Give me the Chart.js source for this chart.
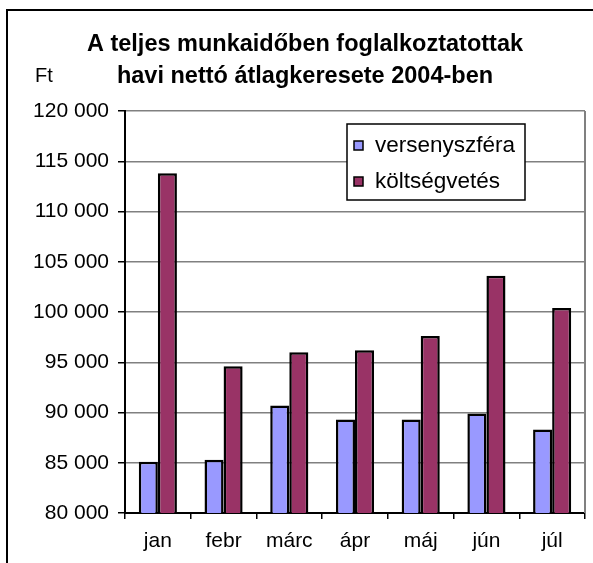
<!DOCTYPE html>
<html>
<head>
<meta charset="utf-8">
<script src="https://cdn.jsdelivr.net/npm/chart.js@4.4.1/dist/chart.umd.min.js"></script>
<style>
  html, body { margin: 0; padding: 0; background: #fff; }
  #wrap { width: 593px; height: 563px; }
</style>
</head>
<body>
<div id="wrap"><canvas id="chart" width="593" height="563"></canvas></div>
<script>
var months = ['jan', 'febr', 'márc', 'ápr', 'máj', 'jún', 'júl'];
var versenyszfera = [85100, 85300, 90700, 89300, 89300, 89900, 88300];
var koltsegvetes = [113800, 94600, 96000, 96200, 97600, 103600, 100400];
var titleLines = ['A teljes munkaidőben foglalkoztatottak', 'havi nettó átlagkeresete 2004-ben'];
var unitLabel = 'Ft';
var yMin = 80000, yMax = 120000, yStep = 5000;

var FONT = '"Liberation Sans", Arial, sans-serif';

function spaced(v) {
    return String(v).replace(/\B(?=(\d{3})+(?!\d))/g, ' ');
}

// frame, title, "Ft", plot border and legend box drawn on the canvas
var decor = {
    id: 'decor',
    beforeDraw(chart) {
        let ctx = chart.ctx;
        ctx.save();
        ctx.fillStyle = '#fff';
        ctx.fillRect(0, 0, chart.width, chart.height);
        ctx.strokeStyle = '#000';
        ctx.lineWidth = 2;
        ctx.strokeRect(7, 10, 700, 700);
        ctx.restore();
    },
    afterDraw(chart) {
        let ctx = chart.ctx, a = chart.chartArea;
        ctx.save();
        // right border of plot area
        ctx.strokeStyle = '#808080';
        ctx.lineWidth = 2;
        ctx.beginPath();
        ctx.moveTo(a.right, a.top);
        ctx.lineTo(a.right, a.bottom);
        ctx.stroke();

        ctx.fillStyle = '#000';
        ctx.textAlign = 'center';
        ctx.textBaseline = 'alphabetic';
        ctx.font = 'bold 23.5px ' + FONT;
        titleLines.forEach((t, i) => ctx.fillText(t, 305, 51 + i * 32));

        ctx.font = '20px ' + FONT;
        ctx.textAlign = 'left';
        ctx.fillText(unitLabel, 35, 82);

        // legend
        let lx = 347, ly = 124, lw = 178, lh = 76;
        ctx.fillStyle = '#fff';
        ctx.fillRect(lx, ly, lw, lh);
        ctx.strokeStyle = '#000';
        ctx.lineWidth = 1.5;
        ctx.strokeRect(lx, ly, lw, lh);
        chart.data.datasets.forEach((ds, i) => {
            let y = ly + 21 + i * 36;
            ctx.fillStyle = ds.backgroundColor;
            ctx.fillRect(354, y - 4, 9, 9);
            ctx.strokeStyle = '#000';
            ctx.lineWidth = 1.5;
            ctx.strokeRect(354, y - 4, 9, 9);
            ctx.fillStyle = '#000';
            ctx.textBaseline = 'middle';
            ctx.font = '22.5px ' + FONT;
            ctx.fillText(ds.label, 375, y + 1);
        });
        ctx.restore();
    }
};

new Chart(document.getElementById('chart'), {
    type: 'bar',
    data: {
        labels: months,
        datasets: [{
            label: 'versenyszféra',
            data: versenyszfera,
            backgroundColor: '#9999FF',
            borderColor: '#000',
            borderWidth: 2.5,
            categoryPercentage: 0.58,
            barPercentage: 1.0
        }, {
            label: 'költségvetés',
            data: koltsegvetes,
            backgroundColor: '#993366',
            borderColor: '#000',
            borderWidth: 2.5,
            categoryPercentage: 0.58,
            barPercentage: 1.0
        }]
    },
    options: {
        responsive: false,
        animation: false,
        layout: { padding: { top: 111, right: 8, left: 0, bottom: 0 } },
        plugins: {
            legend: { display: false },
            title: { display: false },
            tooltip: { enabled: false }
        },
        scales: {
            x: {
                offset: true,
                grid: {
                    offset: true,
                    drawOnChartArea: false,
                    drawTicks: true,
                    tickLength: 6,
                    color: '#000',
                    lineWidth: 1.5
                },
                border: { color: '#000', width: 2 },
                ticks: {
                    color: '#000',
                    font: { family: FONT, size: 21 },
                    padding: 10,
                    maxRotation: 0
                },
                afterFit(scale) { scale.height = 50; }
            },
            y: {
                min: yMin,
                max: yMax,
                grid: {
                    color: '#808080',
                    lineWidth: 1.5,
                    tickLength: 7,
                    tickColor: '#000'
                },
                border: { color: '#000', width: 2 },
                ticks: {
                    stepSize: yStep,
                    color: '#000',
                    font: { family: FONT, size: 21 },
                    padding: 9,
                    callback: v => spaced(v)
                },
                afterFit(scale) { scale.width = 125; }
            }
        }
    },
    plugins: [decor]
});
</script>
</body>
</html>
